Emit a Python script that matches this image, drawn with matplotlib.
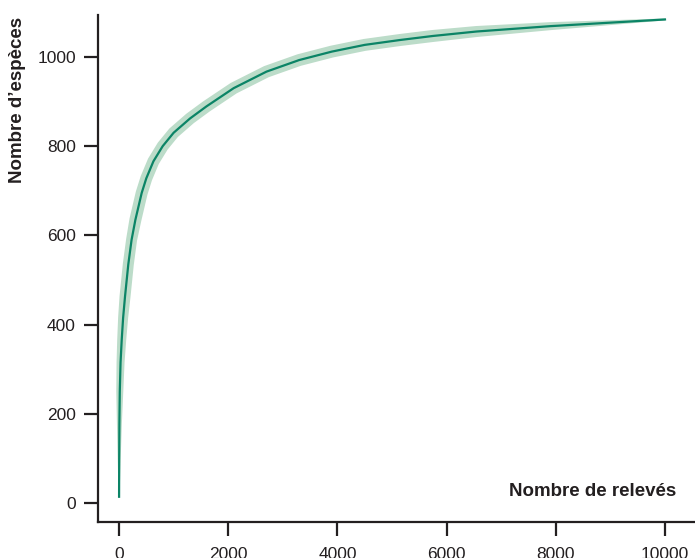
import matplotlib
matplotlib.use("Agg")
import matplotlib.pyplot as plt
import numpy as np

# species accumulation curve
releves = [1, 3, 7, 14, 28, 49, 75, 110, 170, 230, 300, 415, 500, 630, 800,
           1000, 1300, 1600, 2100, 2700, 3300, 3900, 4500, 5150, 5750, 6550,
           7900, 10000]
especes = [14, 100, 180, 250, 315, 365, 415, 463, 535, 590, 635, 695, 728,
           766, 800, 830, 862, 889, 930, 967, 993, 1012, 1027, 1038, 1047,
           1057, 1069, 1084]
# half thickness of the confidence band, in pixels, along the curve
demi_bande = [0.5, 1.5, 2.5, 3.5, 4, 4.5, 5, 5.5, 5.5, 5.5, 6, 6, 6, 6, 6,
              6, 6, 6, 6, 6, 6, 6, 6, 6, 6, 5.5, 4, 1]

x_ticks = [0, 2000, 4000, 6000, 8000, 10000]
y_ticks = [0, 200, 400, 600, 800, 1000]

ink = "#231f20"
line_col = "#0b8466"
band_col = "#bcdcc9"
plt.rcParams["font.family"] = ["Liberation Sans", "DejaVu Sans"]

fig = plt.figure(figsize=(6.95, 5.58), dpi=100)
ax = fig.add_axes([98 / 695, 36 / 558, 597 / 695, 507 / 558])
ax.set_xlim(-385, 10550)
ax.set_ylim(-42.6, 1094)

# band: offset the curve perpendicular to itself in display space
pts = ax.transData.transform(np.column_stack([releves, especes]))
dx = np.gradient(pts[:, 0])
dy = np.gradient(pts[:, 1])
n = np.hypot(dx, dy)
nx_, ny_ = -dy / n, dx / n
hw = np.array(demi_bande)
haut = pts + np.column_stack([nx_ * hw, ny_ * hw])
bas = pts - np.column_stack([nx_ * hw, ny_ * hw])
poly = ax.transData.inverted().transform(np.vstack([haut, bas[::-1]]))
ax.fill(poly[:, 0], poly[:, 1], color=band_col, lw=0)

ax.plot(releves, especes, color=line_col, lw=1.6)

ax.set_xticks(x_ticks)
ax.set_yticks(y_ticks)

for s in ["top", "right"]:
    ax.spines[s].set_visible(False)
for s in ["left", "bottom"]:
    ax.spines[s].set_linewidth(1.6)
    ax.spines[s].set_color(ink)
ax.tick_params(direction="out", length=10, width=1.6, color=ink,
               labelsize=12.5, labelcolor=ink)
ax.tick_params(axis="y", pad=6)
ax.tick_params(axis="x", pad=8)

ax.text(0.968, 0.06, "Nombre de relevés", transform=ax.transAxes,
        ha="right", va="center", fontsize=13.5, fontweight="bold", color=ink)
fig.text(18 / 695, 1 - 100 / 558, "Nombre d’espèces", rotation=90,
         ha="center", va="center", fontsize=13.5, fontweight="bold", color=ink)

fig.savefig("out.png", dpi=100)
